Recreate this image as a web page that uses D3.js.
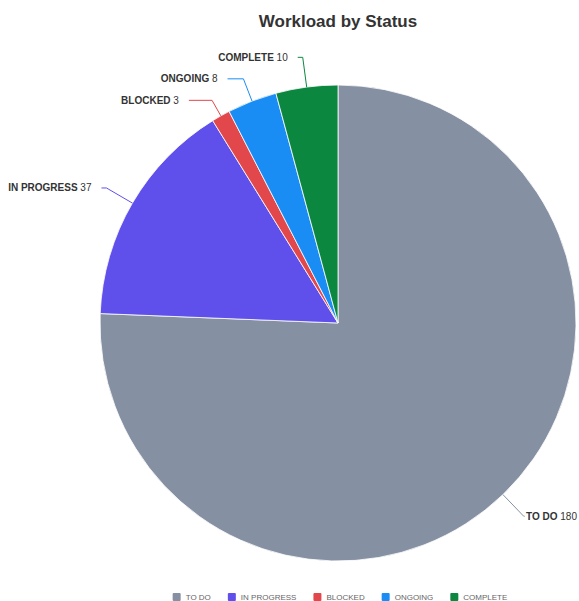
<!DOCTYPE html>
<html>
<head>
<meta charset="utf-8">
<script src="https://cdn.jsdelivr.net/npm/d3@7"></script>
<style>
  body { margin: 0; background: #fff; }
  svg { display: block; }
</style>
</head>
<body>
<div id="chart"></div>
<script>
const statuses = ["TO DO", "IN PROGRESS", "BLOCKED", "ONGOING", "COMPLETE"];
const counts = [180, 37, 3, 8, 10];
const colors = ["#8590a2", "#5f50ec", "#e2474c", "#1a8df5", "#0b873f"];

const width = 579, height = 601;
const cx = 338, cy = 323, radius = 238;

const svg = d3.select("#chart").append("svg")
  .attr("width", width)
  .attr("height", height);

// Title
svg.append("text")
  .attr("x", cx)
  .attr("y", 27)
  .attr("text-anchor", "middle")
  .style("font-family", "Liberation Sans, Arial, sans-serif")
  .style("font-size", "17px")
  .style("font-weight", "bold")
  .style("fill", "#333")
  .text("Workload by Status");

const data = statuses.map((s, i) => ({ status: s, count: counts[i], color: colors[i] }));

const pie = d3.pie().sort(null).value((d) => d.count);
const arc = d3.arc().innerRadius(0).outerRadius(radius);
const arcs = pie(data);

const g = svg.append("g").attr("transform", "translate(" + cx + "," + cy + ")");

g.selectAll(".slice")
  .data(arcs)
  .enter().append("path")
  .attr("class", "slice")
  .attr("d", arc)
  .attr("fill", (d) => d.data.color)
  .attr("stroke", "#fff")
  .attr("stroke-width", 0.8);

// Labels: leader line out from the slice, then a short horizontal run
const R = 268;
let labels = arcs.map((d) => {
  const a = (d.startAngle + d.endAngle) / 2;
  return {
    d, a,
    left: Math.sin(a) < 0,
    y: -R * Math.cos(a)
  };
});

// push left-side labels down so they don't overlap
const leftSide = labels.filter((l) => l.left).sort((p, q) => p.y - q.y);
for (let i = 1; i < leftSide.length; i++) {
  if (leftSide[i].y < leftSide[i - 1].y + 21.5) leftSide[i].y = leftSide[i - 1].y + 21.5;
}

labels.forEach((l) => {
  l.sx = radius * Math.sin(l.a);
  l.sy = -radius * Math.cos(l.a);
  // elbow on the slice's mid ray at the label height
  const rr = Math.abs(l.y / Math.cos(l.a));
  l.ex = rr * Math.sin(l.a);
  let endX = Math.sqrt(Math.max(R * R - l.y * l.y, 0)) * (l.left ? -1 : 1);
  if (l.left) endX = Math.min(endX, l.ex - 5); else endX = Math.max(endX, l.ex + 6);
  l.endX = endX;
  l.tx = endX + (l.left ? -10 : 5);
});

const lt = g.selectAll(".lbl")
  .data(labels)
  .enter().append("text")
  .attr("class", "lbl")
  .attr("x", (l) => l.tx)
  .attr("y", (l) => l.y)
  .attr("dy", "0.35em")
  .attr("text-anchor", (l) => l.left ? "end" : "start")
  .style("font-family", "Liberation Sans, Arial, sans-serif")
  .style("font-size", "10px")
  .style("fill", "#333");

lt.append("tspan").style("font-weight", "bold").text((l) => l.d.data.status);
lt.append("tspan").text((l) => " " + l.d.data.count);

// keep right-side labels inside the frame, pulling the leader end with them
lt.each(function(l) {
  if (l.left) return;
  const w = this.getComputedTextLength();
  const maxX = width - 2 - cx;
  if (l.tx + w > maxX) {
    l.tx = maxX - w;
    d3.select(this).attr("x", l.tx);
    l.endX = Math.max(l.ex + 1, l.tx - 4);
  }
});

g.selectAll(".leader")
  .data(labels)
  .enter().insert("polyline", ".lbl")
  .attr("class", "leader")
  .attr("points", (l) => [[l.sx, l.sy], [l.ex, l.y], [l.endX, l.y]].map((p) => p.join(",")).join(" "))
  .attr("fill", "none")
  .attr("stroke", (l) => l.d.data.color)
  .attr("stroke-width", 1);

// Legend
const legend = svg.append("g").attr("class", "legend");
let lx = 0;
const items = legend.selectAll(".item")
  .data(data)
  .enter().append("g")
  .attr("class", "item");

items.append("rect")
  .attr("width", 8)
  .attr("height", 8)
  .attr("rx", 1)
  .attr("y", -4)
  .attr("fill", (d) => d.color);

items.append("text")
  .attr("x", 13)
  .attr("dy", "0.35em")
  .style("font-family", "Liberation Sans, Arial, sans-serif")
  .style("font-size", "8px")
  .style("fill", "#666")
  .text((d) => d.status);

items.each(function() {
  const w = d3.select(this).select("text").node().getComputedTextLength();
  d3.select(this).attr("transform", "translate(" + lx + ",0)");
  lx += 13 + w + 17;
});
const totalW = lx - 17;
legend.attr("transform", "translate(" + (340 - totalW / 2) + ",597)");
</script>
</body>
</html>
